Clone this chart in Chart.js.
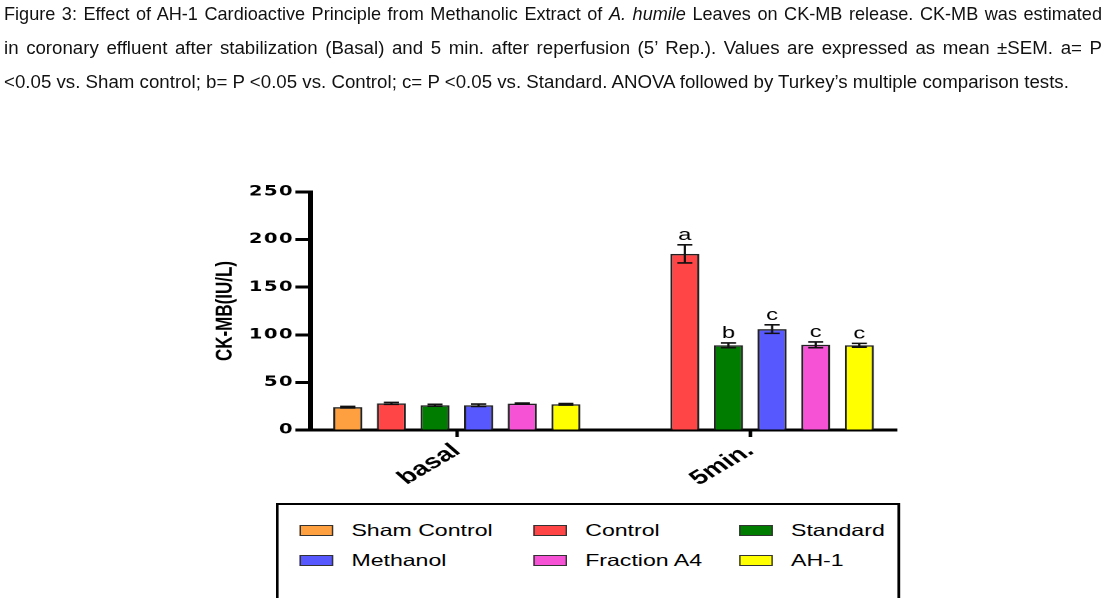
<!DOCTYPE html>
<html>
<head>
<meta charset="utf-8">
<script src="https://cdn.jsdelivr.net/npm/chart.js@4.4.1/dist/chart.umd.min.js"></script>
<style>
    html, body { margin: 0; padding: 0; background: #fff; }
    body { width: 1106px; height: 598px; position: relative; overflow: hidden; font-family: 'Liberation Sans', Arial, sans-serif; }
    #caption { position: absolute; left: 4px; top: -3px; width: 1098px; font-size: 18.7px; line-height: 34px; color: #111; z-index: 2; }
    #caption .just { text-align: justify; text-align-last: justify; }
    #caption .l1 { font-size: 18.1px; }
    /* the figure in the source is a horizontally stretched picture */
    #figure { position: absolute; left: 0; top: 0; width: 790px; height: 598px; transform: scaleX(1.4); transform-origin: 0 0; }
    #chartBox { position: absolute; left: 0; top: 0; width: 790px; height: 598px; }
    #legend { position: absolute; left: 197px; top: 503px; width: 446px; height: 130px; border: 2px solid #000; background: #fff;
              box-sizing: border-box; padding: 10px 0 0 15px; display: grid; grid-template-columns: 167px 147px auto; grid-auto-rows: 30px; }
    .item { display: flex; align-items: center; font-size: 16.5px; color: #000; }
    .swatch { width: 22px; height: 9px; border: 1.5px solid #333; margin-right: 13px; }
</style>
</head>
<body>
<div id="caption">
    <div class="just l1">Figure 3: Effect of AH-1 Cardioactive Principle from Methanolic Extract of <i>A. humile</i> Leaves on CK-MB release. CK-MB was estimated</div>
    <div class="just">in coronary effluent after stabilization (Basal) and 5 min. after reperfusion (5’ Rep.). Values are expressed as mean ±SEM. a= P</div>
    <div>&lt;0.05 vs. Sham control; b= P &lt;0.05 vs. Control; c= P &lt;0.05 vs. Standard. ANOVA followed by Turkey’s multiple comparison tests.</div>
</div>
<div id="figure">
    <div id="chartBox"><canvas id="ckmbChart"></canvas></div>
    <div id="legend"></div>
</div>
<script>
// categorias y series
const groups = ['basal', '5min.'];
const seriesNames = ['Sham Control', 'Control', 'Standard', 'Methanol', 'Fraction A4', 'AH-1'];
const seriesColors = ['#FFA040', '#FF4545', '#007D00', '#5858FF', '#F552D6', '#FFFF00'];

// valores (media y SEM), uno por serie
const basalMeans = [24, 28, 26, 26, 27.7, 27];
const basalSem = [0.8, 1, 1, 1.2, 0.6, 0.8];
const minMeans = [null, 185, 89, 106, 89.5, 89];
const minSem = [null, 9.5, 2.5, 4.5, 3, 2];
const basalSig = ['', '', '', '', '', ''];
const minSig = ['', 'a', 'b', 'c', 'c', 'c'];

const yTicks = [0, 50, 100, 150, 200, 250];

const means = [basalMeans, minMeans];
const sems = [basalSem, minSem];
const sigs = [basalSig, minSig];

// barras de error + letras de significancia
const errorBars = {
    id: 'errorBars',
    afterDatasetsDraw(chart) {
        const ctx = chart.ctx;
        const y = chart.scales.y;
        ctx.save();
        ctx.strokeStyle = '#111';
        ctx.lineWidth = 1.6;
        ctx.fillStyle = '#000';
        ctx.font = '17px "Liberation Sans", Arial, sans-serif';
        ctx.textAlign = 'center';
        ctx.textBaseline = 'alphabetic';
        chart.data.datasets.forEach((ds, i) => {
            const meta = chart.getDatasetMeta(i);
            meta.data.forEach((bar, j) => {
                const m = means[j][i];
                if (m === null) return;
                const s = sems[j][i];
                const top = y.getPixelForValue(m + s);
                const bot = y.getPixelForValue(m - s);
                const half = 5.4;
                ctx.beginPath();
                ctx.moveTo(bar.x, top); ctx.lineTo(bar.x, bot);
                ctx.moveTo(bar.x - half, top); ctx.lineTo(bar.x + half, top);
                ctx.moveTo(bar.x - half, bot); ctx.lineTo(bar.x + half, bot);
                ctx.stroke();
                if (sigs[j][i]) ctx.fillText(sigs[j][i], bar.x, top - 5);
            });
        });
        ctx.restore();
    }
};

// los numeros del eje Y van mas espaciados
const spacedTicks = {
    id: 'spacedTicks',
    beforeDraw(chart) {
        const scale = chart.scales.y;
        if (scale._spaced) return;
        const orig = scale.drawLabels;
        scale.drawLabels = function (area) {
            this.ctx.save();
            this.ctx.letterSpacing = '1px';
            orig.call(this, area);
            this.ctx.restore();
        };
        scale._spaced = true;
    }
};

const ctx = document.getElementById('ckmbChart').getContext('2d');
new Chart(ctx, {
    type: 'bar',
    data: {
        labels: groups,
        datasets: seriesNames.map((name, i) => ({
            label: name,
            data: [basalMeans[i], minMeans[i]],
            backgroundColor: seriesColors[i],
            borderColor: '#222',
            borderWidth: 1.5,
            categoryPercentage: 0.892,
            barPercentage: 0.666
        }))
    },
    options: {
        responsive: true,
        maintainAspectRatio: false,
        animation: false,
        devicePixelRatio: 2,
        layout: { padding: { left: 150.5, right: 149.3, top: 192, bottom: 0 } },
        plugins: { legend: { display: false }, tooltip: { enabled: false } },
        scales: {
            x: {
                grid: { drawOnChartArea: false, offset: false, tickLength: 7, tickWidth: 2.5, tickColor: '#000' },
                border: { color: '#000', width: 3 },
                ticks: {
                    color: '#000', padding: 2, autoSkip: false, minRotation: 39.5, maxRotation: 39.5,
                    font: { family: '"Liberation Sans", Arial, sans-serif', size: 20, weight: 'bold' }
                },
                afterFit(s) { s.height = 168; }
            },
            y: {
                min: 0, max: 250,
                afterBuildTicks(s) { s.ticks = yTicks.map(v => ({ value: v })); },
                grid: { drawOnChartArea: false, tickLength: 10.5, tickWidth: 3, tickColor: '#000' },
                border: { color: '#000', width: 3.5 },
                ticks: {
                    color: '#000', padding: 1,
                    font: { family: '"DejaVu Sans", sans-serif', size: 14, weight: 'bold' }
                },
                title: {
                    display: true, text: 'CK-MB(IU/L)', color: '#000', padding: 0,
                    font: { family: '"Liberation Sans", Arial, sans-serif', size: 17, weight: 'bold' }
                },
                afterFit(s) { s.width = 71; }
            }
        }
    },
    plugins: [errorBars, spacedTicks]
});

// leyenda en caja, tres columnas
const legend = document.getElementById('legend');
seriesNames.forEach((name, i) => {
    const item = document.createElement('div');
    item.className = 'item';
    item.innerHTML = '<span class="swatch" style="background:' + seriesColors[i] + '"></span><span>' + name + '</span>';
    legend.appendChild(item);
});
</script>
</body>
</html>
